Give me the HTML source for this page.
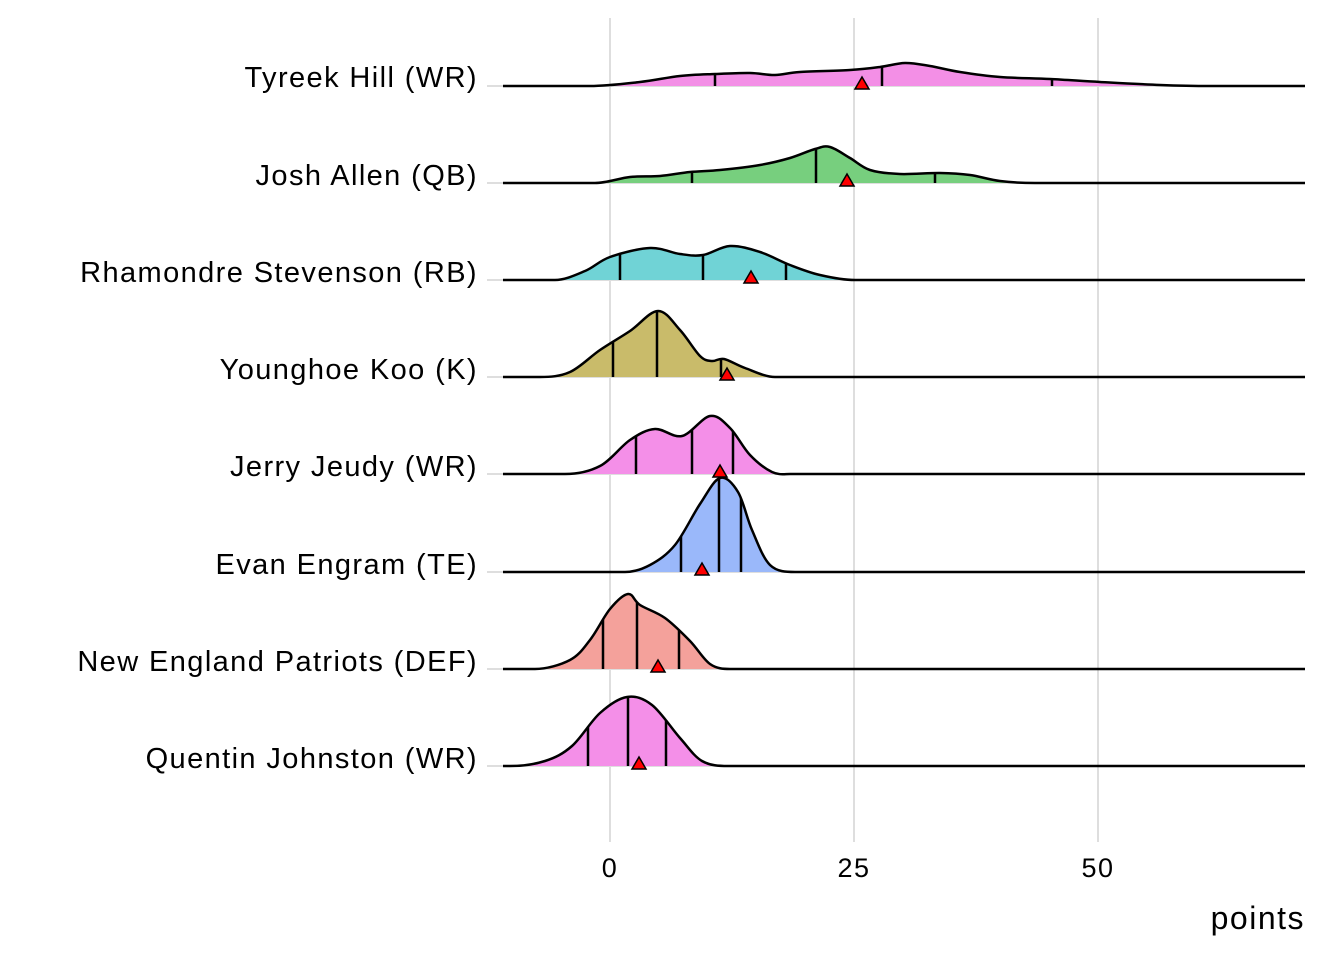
<!DOCTYPE html>
<html><head><meta charset="utf-8"><style>
html,body{margin:0;padding:0;background:#fff}
svg{display:block}
text{font-family:"Liberation Sans",Arial,sans-serif;fill:#000}
</style></head><body>
<svg id="s" width="1344" height="960" xmlns="http://www.w3.org/2000/svg">
<g stroke="#dedede" stroke-width="2">
<line x1="610" y1="18" x2="610" y2="842"/><line x1="854" y1="18" x2="854" y2="842"/><line x1="1098" y1="18" x2="1098" y2="842"/>
</g>
<g font-size="29" text-anchor="end" letter-spacing="1.4">
<text x="478" y="87">Tyreek Hill (WR)</text>
<text x="478" y="185">Josh Allen (QB)</text>
<text x="478" y="282">Rhamondre Stevenson (RB)</text>
<text x="478" y="379">Younghoe Koo (K)</text>
<text x="478" y="476">Jerry Jeudy (WR)</text>
<text x="478" y="574">Evan Engram (TE)</text>
<text x="478" y="671">New England Patriots (DEF)</text>
<text x="478" y="768">Quentin Johnston (WR)</text>
</g>
<g font-size="27" text-anchor="middle" letter-spacing="1.5">
<text x="610" y="877">0</text><text x="854" y="877">25</text><text x="1098" y="877">50</text>
</g>
<text x="1305" y="929" font-size="32" text-anchor="end" letter-spacing="1.5">points</text>
<g id="ridges"></g>
<g id="tris"></g>
</svg>
<script>
var data=[
{b:86,c:"#F38FE6",p:[[590,86],[640,82],[680,76],[715,74],[750,73],[775,75],[800,72],[850,70],[880,67],[905,63],[930,66],[960,72],[1000,77],[1050,79],[1100,82],[1160,85],[1210,86]],q:[715,882,1052],t:862},
{b:183,c:"#77CF7E",p:[[595,183],[630,177],[660,176],[690,172],[720,170],[760,165],[790,158],[815,149],[830,147],[850,158],[870,170],[900,174],[940,173],[970,175],[1000,181],[1035,183]],q:[692,816,935],t:847},
{b:280,c:"#70D3D6",p:[[555,280],[585,271],[610,257],[650,248],[680,254],[703,255],[730,246],[760,252],[790,265],[820,275],[855,280]],q:[620,703,786],t:751},
{b:377,c:"#C9BB6A",p:[[540,377],[570,372],[600,350],[630,331],[658,311],[680,330],[700,356],[712,361],[724,359],[745,368],[775,377]],q:[613,657,721],t:727},
{b:474,c:"#F48FE8",p:[[565,474],[600,466],[630,440],[655,429],[682,436],[710,416],[730,428],[750,455],[772,472],[790,474]],q:[636,692,733],t:720},
{b:572,c:"#9AB8FA",p:[[625,572],[650,565],[675,545],[700,504],[720,478],[738,492],[752,530],[770,565],[795,572]],q:[681,719,741],t:702},
{b:669,c:"#F4A19B",p:[[535,669],[570,660],[590,640],[610,609],[628,594],[640,605],[665,618],[690,641],[710,664],[730,669]],q:[603,637,679],t:658},
{b:766,c:"#F48FE8",p:[[510,766],[545,761],[572,746],[600,713],[627,697],[652,705],[680,738],[702,761],[728,766]],q:[588,628,666],t:639}
];
function path(p,b){var d="M503,"+b+"L"+p[0][0]+","+p[0][1];var n=p.length;
for(var i=0;i<n-1;i++){var p1=p[i],p2=p[i+1],c1,c2;
if(i==0)c1=[p1[0]+(p2[0]-p1[0])/3,p1[1]];else{var p0=p[i-1];c1=[p1[0]+(p2[0]-p0[0])/6,p1[1]+(p2[1]-p0[1])/6];}
if(i==n-2)c2=[p2[0]-(p2[0]-p1[0])/3,p2[1]];else{var p3=p[i+2];c2=[p2[0]-(p3[0]-p1[0])/6,p2[1]-(p3[1]-p1[1])/6];}
d+="C"+c1.join(",")+" "+c2.join(",")+" "+p2.join(",");}
return d+"L1305,"+b;}
var g=document.getElementById("ridges"),tg=document.getElementById("tris"),h="",th="";
data.forEach(function(r,i){var d=path(r.p,r.b);
h+='<line x1="487" y1="'+r.b+'" x2="1305" y2="'+r.b+'" stroke="#dedede" stroke-width="2"/>';
h+='<clipPath id="c'+i+'"><path d="'+d+'Z"/></clipPath>';
h+='<path d="'+d+'Z" fill="'+r.c+'"/>';
r.q.forEach(function(x){h+='<line clip-path="url(#c'+i+')" x1="'+x+'" x2="'+x+'" y1="'+(r.b-200)+'" y2="'+r.b+'" stroke="#000" stroke-width="2.5"/>';});
h+='<path d="'+d+'" fill="none" stroke="#000" stroke-width="2.5"/>';
var t=r.t,b=r.b+3;th+='<polygon points="'+(t-7)+','+b+' '+(t+7)+','+b+' '+t+','+(b-12)+'" fill="#FF0000" stroke="#000" stroke-width="1.5"/>';
});
g.innerHTML=h;tg.innerHTML=th;
</script>
</body></html>
